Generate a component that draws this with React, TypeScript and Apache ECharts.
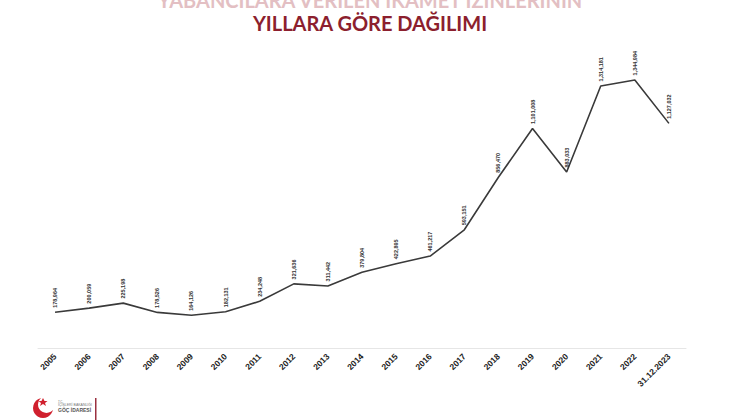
import React, { useEffect, useRef } from "react";
import * as echarts from "echarts";

const categories = [
  "2005", "2006", "2007", "2008", "2009", "2010", "2011", "2012", "2013", "2014",
  "2015", "2016", "2017", "2018", "2019", "2020", "2021", "2022", "31.12.2023",
];
const values = [
  178964, 200059, 225198, 178526, 164126, 182131, 234248, 321636, 311442, 379804,
  422895, 461217, 593151, 856470, 1101008, 883033, 1314181, 1344984, 1127032,
];
const titleTop = "YABANCILARA VERİLEN İKAMET İZİNLERİNİN";
const titleMain = "YILLARA GÖRE DAĞILIMI";

const fmt = (v: number) => v.toLocaleString("en-US");

export default function App() {
  const ref = useRef<HTMLDivElement>(null);
  useEffect(() => {
    if (!ref.current) return;
    const chart = echarts.init(ref.current, null, { renderer: "svg" });
    chart.setOption({
      animation: false,
      backgroundColor: "#ffffff",
      title: [
        {
          text: titleTop,
          left: "center",
          top: -15,
          textStyle: { fontFamily: "Lato", fontWeight: "bold", fontSize: 20, color: "#e3bfc3" },
        },
        {
          text: titleMain,
          left: "center",
          top: 8,
          textStyle: { fontFamily: "Lato", fontWeight: "bold", fontSize: 20, color: "#8c1f2e" },
        },
      ],
      grid: { left: 38, right: 54, top: 59, bottom: 72 },
      xAxis: {
        type: "category",
        data: categories,
        boundaryGap: true,
        axisLine: { show: true, lineStyle: { color: "#e6e6e6", width: 1 } },
        axisTick: { show: false },
        axisLabel: {
          rotate: 45,
          margin: 7,
          fontFamily: "Liberation Sans",
          fontWeight: "bold",
          fontSize: 8.5,
          color: "#222222",
          interval: 0,
        },
      },
      yAxis: {
        type: "value",
        min: 0,
        max: 1450000,
        show: false,
        splitLine: { show: false },
      },
      series: [
        {
          type: "line",
          data: values,
          symbol: "circle",
          symbolSize: 1,
          showSymbol: true,
          itemStyle: { color: "rgba(0,0,0,0)" },
          lineStyle: { color: "#3a3a3a", width: 1.6 },
          label: {
            show: true,
            position: "top",
            rotate: 90,
            align: "left",
            verticalAlign: "middle",
            distance: 4,
            fontFamily: "Liberation Sans",
            fontWeight: "bold",
            fontSize: 5.5,
            color: "#333333",
            formatter: (p: any) => fmt(p.value),
          },
        },
      ],
      graphic: [
        { type: "circle", shape: { cx: 43, cy: 408, r: 10 }, style: { fill: "#d0202e" } },
        { type: "circle", shape: { cx: 46.5, cy: 404.5, r: 8.5 }, style: { fill: "#ffffff" } },
        {
          type: "polygon",
          shape: { points: [[43, 398], [44.5, 401], [47.5, 401], [45, 403], [46, 406], [43, 404], [40, 406], [41, 403], [38.5, 401], [41.5, 401]] },
          style: { fill: "#d0202e" },
        },
        { type: "text", style: { x: 58, y: 400, text: "T.C.", fontSize: 3, fill: "#777" } },
        { type: "text", style: { x: 58, y: 403, text: "İÇİŞLERİ BAKANLIĞI", fontSize: 3.5, fill: "#777" } },
        { type: "text", style: { x: 58, y: 407, text: "GÖÇ İDARESİ", fontSize: 5, fontWeight: "bold", fill: "#555" } },
        { type: "rect", shape: { x: 95, y: 398, width: 1.5, height: 22 }, style: { fill: "#9a3040" } },
      ],
    });
    return () => chart.dispose();
  }, []);
  return (
    <div
      ref={ref}
      style={{ position: "absolute", left: 0, top: 0, width: 740, height: 420 }}
    />
  );
}
